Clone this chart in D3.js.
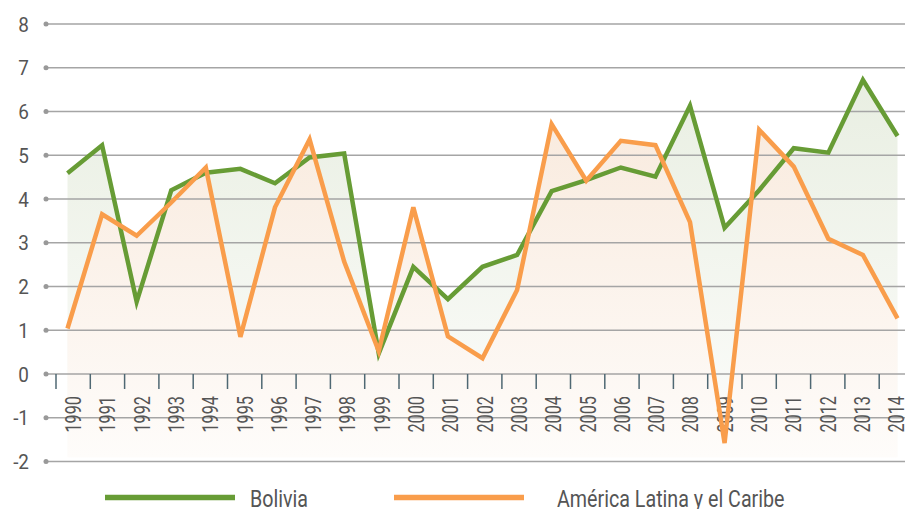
<!DOCTYPE html>
<html>
<head>
<meta charset="utf-8">
<script src="https://cdn.jsdelivr.net/npm/d3@7"></script>
<style>
  body { margin: 0; background: #fff; }
  text { font-family: "Roboto", "Liberation Sans", sans-serif; fill: #555; }
</style>
</head>
<body>
<div id="chart"></div>
<script>
// Data (annual GDP growth, %)
var years = [1990, 1991, 1992, 1993, 1994, 1995, 1996, 1997, 1998, 1999, 2000, 2001, 2002,
             2003, 2004, 2005, 2006, 2007, 2008, 2009, 2010, 2011, 2012, 2013, 2014];
var bolivia = [4.59, 5.23, 1.65, 4.2, 4.6, 4.69, 4.36, 4.95, 5.04, 0.47, 2.45, 1.71, 2.45,
               2.72, 4.18, 4.43, 4.72, 4.51, 6.13, 3.34, 4.2, 5.16, 5.06, 6.72, 5.44];
var latam = [1.04, 3.65, 3.16, 3.92, 4.72, 0.85, 3.81, 5.36, 2.57, 0.52, 3.81, 0.86, 0.36,
             1.92, 5.71, 4.42, 5.33, 5.23, 3.47, -1.58, 5.58, 4.74, 3.09, 2.72, 1.27];
var yTicks = [-2, -1, 0, 1, 2, 3, 4, 5, 6, 7, 8];
var seriesNames = ["Bolivia", "América Latina y el Caribe"];

var svgWidth = 905;
var svgHeight = 509;
var green = "#679c35";
var orange = "#f99d4b";

var svg = d3.select("#chart")
  .append("svg")
  .attr("width", svgWidth)
  .attr("height", svgHeight);

// Scales: points for the lines, bands for the category axis
var xPoint = d3.scalePoint().domain(years).range([67.5, 897.5]);
var xBand = d3.scaleBand().domain(years).range([56, 913.5]);
var yScale = d3.scaleLinear().domain([-2, 8]).range([461.5, 24]);

// Vertical fading gradients for the areas (opaque, so orange covers green)
var defs = svg.append("defs");
function addGradient(id, top, bottom) {
  var g = defs.append("linearGradient")
    .attr("id", id)
    .attr("gradientUnits", "userSpaceOnUse")
    .attr("x1", 0).attr("x2", 0)
    .attr("y1", yScale(7)).attr("y2", yScale(-1.9));
  g.append("stop").attr("offset", "0%").attr("stop-color", top);
  g.append("stop").attr("offset", "100%").attr("stop-color", bottom);
}
addGradient("gradGreen", "#e8eee1", "#fdfdfc");
addGradient("gradOrange", "#f8e8da", "#fefcfa");

var area = d3.area()
  .x(function(d, i) { return xPoint(years[i]); })
  .y0(yScale(-1.9))
  .y1(function(d) { return yScale(d); });

var line = d3.line()
  .x(function(d, i) { return xPoint(years[i]); })
  .y(function(d) { return yScale(d); });

svg.append("path").datum(bolivia).attr("d", area).attr("fill", "url(#gradGreen)");
svg.append("path").datum(latam).attr("d", area).attr("fill", "url(#gradOrange)");

// Gridlines with a dot at the left end
var grid = svg.append("g");
grid.selectAll("line")
  .data(yTicks)
  .enter()
  .append("line")
  .attr("x1", 46)
  .attr("x2", svgWidth)
  .attr("y1", function(d) { return yScale(d); })
  .attr("y2", function(d) { return yScale(d); })
  .attr("stroke", "#a5a5a5")
  .attr("stroke-width", 1.5);

grid.selectAll("circle")
  .data(yTicks)
  .enter()
  .append("circle")
  .attr("cx", 46)
  .attr("cy", function(d) { return yScale(d); })
  .attr("r", 2.5)
  .attr("fill", "#999");

grid.selectAll("text")
  .data(yTicks)
  .enter()
  .append("text")
  .attr("transform", function(d) {
    return "translate(29," + yScale(d) + ") scale(0.9,1)";
  })
  .attr("dy", "0.36em")
  .attr("text-anchor", "end")
  .style("font-size", "21px")
  .text(function(d) { return d; });

// Category ticks on the zero line
var xAxis = svg.append("g");
xAxis.selectAll("line")
  .data(years)
  .enter()
  .append("line")
  .attr("x1", function(d) { return xBand(d); })
  .attr("x2", function(d) { return xBand(d); })
  .attr("y1", yScale(0))
  .attr("y2", yScale(0) + 15)
  .attr("stroke", "#4f6873")
  .attr("stroke-width", 1.5);

xAxis.selectAll("text")
  .data(years)
  .enter()
  .append("text")
  .attr("transform", function(d) {
    return "translate(" + (xBand(d) + xBand.bandwidth() / 2) + "," + 396 + ") rotate(-90) scale(0.74,1)";
  })
  .attr("dy", "0.36em")
  .attr("text-anchor", "end")
  .style("font-size", "22px")
  .text(function(d) { return d; });

// Series lines
svg.append("path").datum(bolivia)
  .attr("d", line)
  .attr("fill", "none")
  .attr("stroke", green)
  .attr("stroke-width", 4.5)
  .attr("stroke-linejoin", "miter");

svg.append("path").datum(latam)
  .attr("d", line)
  .attr("fill", "none")
  .attr("stroke", orange)
  .attr("stroke-width", 4.5)
  .attr("stroke-linejoin", "miter");

// Legend
var legend = svg.append("g");
var legendItems = [
  {name: seriesNames[0], color: green, x: 105, tx: 250},
  {name: seriesNames[1], color: orange, x: 394, tx: 557}
];
legend.selectAll("line")
  .data(legendItems)
  .enter()
  .append("line")
  .attr("x1", function(d) { return d.x; })
  .attr("x2", function(d) { return d.x + 130; })
  .attr("y1", 497.5)
  .attr("y2", 497.5)
  .attr("stroke", function(d) { return d.color; })
  .attr("stroke-width", 5.5);

legend.selectAll("text")
  .data(legendItems)
  .enter()
  .append("text")
  .attr("transform", function(d) { return "translate(" + d.tx + ",507) scale(0.82,1)"; })
  .style("font-size", "24px")
  .text(function(d) { return d.name; });
</script>
</body>
</html>
